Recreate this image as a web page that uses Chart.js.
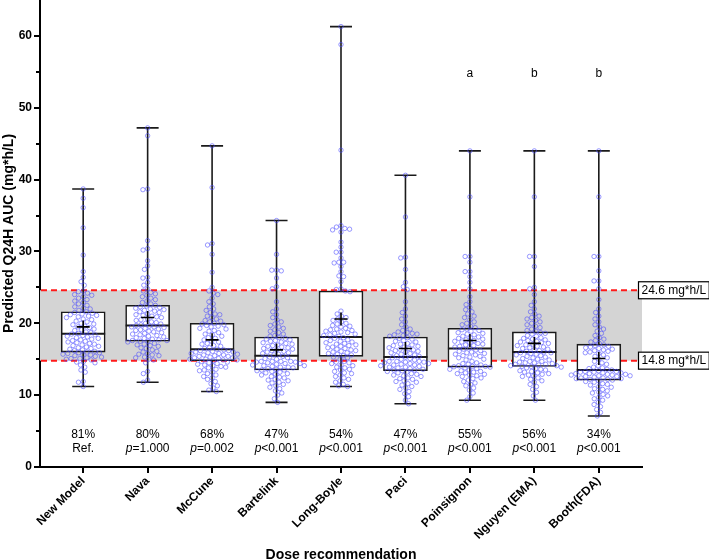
<!DOCTYPE html>
<html><head><meta charset="utf-8">
<script src="https://cdn.jsdelivr.net/npm/chart.js@4/dist/chart.umd.min.js"></script>
<style>html,body{margin:0;padding:0;background:#fff}#wrap{width:709px;height:560px}</style>
</head><body><div id="wrap"><canvas id="c" width="709" height="560"></canvas></div>
<script>
// ---------------- DATA ----------------
const categories = ['New Model','Nava','McCune','Bartelink','Long-Boyle','Paci','Poinsignon','Nguyen (EMA)','Booth(FDA)'];
const whiskerMin = [11.2, 11.8, 10.5, 9.0, 11.2, 8.8, 9.3, 9.3, 7.1];
const q1         = [16.0, 17.5, 14.8, 13.5, 15.4, 13.4, 13.9, 14.0, 12.1];
const median     = [18.55, 19.7, 16.4, 15.5, 18.1, 15.3, 16.5, 16.0, 13.5];
const q3         = [21.6, 22.5, 20.0, 18.1, 24.5, 18.1, 19.3, 18.8, 17.1];
const whiskerMax = [38.7, 47.2, 44.7, 34.3, 61.3, 40.6, 44.0, 44.0, 44.0];
const means      = [19.5, 20.8, 17.7, 16.3, 20.6, 16.5, 17.6, 17.2, 15.1];
const pctInRange = ['81%','80%','68%','47%','54%','47%','55%','56%','34%'];
const pValues    = ['Ref.','p=1.000','p=0.002','p<0.001','p<0.001','p<0.001','p<0.001','p<0.001','p<0.001'];
const sigLetters = ['','','','','','','a','b','b'];
const targetLow = 14.8;
const targetHigh = 24.6;
const targetLabels = ['24.6 mg*h/L','14.8 mg*h/L'];
const yTicks = [0,10,20,30,40,50,60];
const yMinorTicks = [5,15,25,35,45,55];

const ptsNewModel = [11.2,11.8,11.9,13.2,13.5,13.9,14.2,14.5,14.6,14.7,14.9,15.0,15.1,15.1,15.2,15.3,15.4,15.5,15.6,15.6,15.7,15.8,15.9,15.9,16.0,
 16.1,16.2,16.3,16.4,16.5,16.6,16.7,16.8,16.9,17.0,17.1,17.2,17.3,17.4,17.5,17.6,17.7,17.8,17.9,18.0,18.1,18.2,18.3,18.4,18.5,
 18.6,18.7,18.8,19.0,19.1,19.2,19.4,19.5,19.6,19.8,19.9,20.0,20.2,20.3,20.5,20.6,20.8,20.9,21.0,21.1,21.2,21.3,21.4,21.5,21.6,
 21.8,22.0,22.1,22.3,22.5,22.7,22.9,23.1,23.3,23.5,23.7,23.9,24.0,24.2,24.4,24.5,25.3,25.8,26.4,27.2,29.5,33.3,36.1,37.4,38.7];
const ptsNava = [11.8,12.1,13.0,13.3,14.5,14.9,15.0,15.2,15.3,15.5,15.6,15.7,15.8,16.0,16.1,16.3,16.5,16.6,16.8,16.9,17.0,17.1,17.2,17.4,17.5,
 17.5,17.6,17.6,17.7,17.8,17.9,18.0,18.1,18.2,18.3,18.4,18.5,18.6,18.7,18.8,18.9,19.0,19.1,19.2,19.3,19.4,19.5,19.5,19.6,19.7,
 19.8,19.9,20.0,20.1,20.2,20.4,20.5,20.6,20.8,20.9,21.0,21.1,21.2,21.3,21.5,21.6,21.7,21.8,21.9,22.0,22.1,22.2,22.3,22.4,22.5,
 22.7,22.9,23.1,23.3,23.5,23.7,23.9,24.1,24.3,24.5,24.8,25.3,25.7,26.3,26.4,27.5,28.0,28.7,30.2,30.4,31.5,38.6,38.7,46.1,47.2];
const ptsMcCune = [10.5,10.7,11.0,11.3,11.6,11.9,12.2,12.4,12.6,12.8,13.0,13.2,13.4,13.5,13.6,13.8,13.9,14.0,14.1,14.2,14.3,14.4,14.5,14.6,14.7,
 14.8,14.9,14.9,15.0,15.0,15.1,15.2,15.2,15.3,15.4,15.4,15.5,15.6,15.6,15.7,15.8,15.8,15.9,16.0,16.0,16.1,16.2,16.2,16.3,16.4,
 16.5,16.6,16.8,16.9,17.1,17.2,17.4,17.5,17.7,17.9,18.0,18.2,18.4,18.5,18.7,18.9,19.0,19.2,19.3,19.5,19.6,19.7,19.8,19.9,20.0,
 20.2,20.3,20.4,20.6,20.8,21.0,21.2,21.3,21.5,21.8,22.0,22.3,22.7,23.0,23.5,24.0,24.2,24.5,25.0,27.1,29.6,30.9,31.1,38.9,44.7];
const ptsBartelink = [9.0,9.5,10.0,10.3,10.6,10.9,11.1,11.3,11.5,11.7,11.8,12.0,12.1,12.2,12.4,12.5,12.6,12.8,12.9,13.0,13.1,13.2,13.3,13.4,13.5,
 13.5,13.6,13.7,13.8,13.9,13.9,14.0,14.1,14.1,14.2,14.3,14.4,14.4,14.5,14.6,14.6,14.7,14.7,14.7,14.7,15.0,15.1,15.2,15.3,15.4,
 15.6,15.7,15.8,15.9,16.0,16.1,16.2,16.3,16.4,16.5,16.6,16.7,16.8,16.9,17.0,17.1,17.2,17.3,17.4,17.5,17.6,17.7,17.8,17.9,18.0,
 18.2,18.3,18.5,18.7,18.9,19.1,19.3,19.5,19.7,19.9,20.2,20.5,20.8,21.2,21.6,22.0,23.0,24.8,25.1,26.3,27.3,27.4,27.4,29.6,34.3];
const ptsLongBoyle = [11.2,11.3,11.5,11.8,12.0,12.2,12.4,12.6,12.8,13.0,13.1,13.3,13.5,13.6,13.8,13.9,14.1,14.2,14.4,14.5,14.6,14.7,15.0,15.2,15.3,
 15.5,15.6,15.7,15.8,15.9,16.0,16.1,16.2,16.3,16.4,16.5,16.6,16.7,16.8,16.9,17.0,17.1,17.2,17.3,17.4,17.5,17.6,17.7,17.9,18.0,
 18.2,18.3,18.4,18.5,18.6,18.7,18.8,18.9,19.0,19.1,19.2,19.3,19.5,19.6,19.7,19.9,20.0,20.2,20.4,20.6,20.8,21.0,21.3,21.7,24.4,
 24.5,24.7,24.8,25.8,26.5,26.6,27.2,27.9,28.4,28.5,28.5,29.1,29.9,29.9,30.6,31.3,32.7,33.0,33.1,33.2,33.4,33.6,44.1,58.8,61.3];
const ptsPaci = [8.8,9.3,9.8,10.2,10.5,10.8,11.0,11.2,11.4,11.6,11.8,11.9,12.0,12.2,12.3,12.4,12.6,12.7,12.8,12.9,13.0,13.1,13.2,13.3,13.4,
 13.5,13.5,13.6,13.7,13.8,13.9,13.9,14.0,14.1,14.2,14.2,14.3,14.4,14.4,14.5,14.6,14.6,14.7,14.7,14.7,14.9,15.0,15.1,15.2,15.3,
 15.4,15.5,15.6,15.7,15.8,15.9,16.0,16.1,16.2,16.3,16.4,16.5,16.6,16.7,16.8,16.9,17.0,17.1,17.2,17.4,17.5,17.6,17.8,17.9,18.0,
 18.2,18.3,18.4,18.5,18.6,18.7,18.8,19.0,19.2,19.5,19.8,20.2,20.6,21.0,21.5,22.0,23.0,24.7,25.1,25.7,27.5,29.1,29.2,34.8,40.6];
const ptsPoinsignon = [9.3,9.8,10.3,10.7,11.0,11.3,11.5,11.7,11.9,12.1,12.3,12.4,12.6,12.7,12.8,12.9,13.0,13.1,13.2,13.3,13.4,13.5,13.6,13.7,13.8,
 13.9,13.95,14.0,14.0,14.1,14.2,14.3,14.4,14.5,14.7,14.9,15.0,15.2,15.3,15.4,15.5,15.6,15.7,15.8,15.9,16.0,16.1,16.2,16.3,16.4,
 16.6,16.7,16.8,16.9,17.0,17.1,17.2,17.3,17.4,17.5,17.6,17.7,17.8,17.9,18.0,18.1,18.2,18.4,18.5,18.6,18.7,18.9,19.0,19.1,19.2,
 19.4,19.6,19.8,20.0,20.2,20.5,20.8,21.0,21.3,21.6,21.9,22.2,22.6,23.0,23.7,24.8,25.7,26.5,27.2,27.2,28.5,29.3,29.3,37.6,44.0];
const ptsNguyen = [9.3,9.9,10.4,10.8,11.2,11.5,11.8,12.0,12.2,12.4,12.6,12.7,12.8,12.9,13.0,13.1,13.2,13.3,13.4,13.5,13.6,13.7,13.8,13.9,14.0,
 14.0,14.1,14.1,14.2,14.3,14.3,14.4,14.5,14.5,14.6,14.7,14.7,14.9,15.0,15.1,15.2,15.3,15.4,15.5,15.6,15.7,15.8,15.9,15.9,16.0,
 16.1,16.2,16.3,16.4,16.5,16.6,16.7,16.8,16.9,17.0,17.1,17.2,17.3,17.4,17.5,17.6,17.7,17.8,17.9,18.0,18.2,18.3,18.5,18.6,18.7,
 18.9,19.0,19.2,19.4,19.6,19.8,20.0,20.2,20.4,20.6,20.8,21.0,21.3,21.6,22.0,22.5,23.0,24.0,24.8,25.0,27.9,29.3,29.3,37.6,44.0];
const ptsBooth = [7.1,7.6,8.0,8.4,8.7,9.0,9.3,9.5,9.7,9.9,10.1,10.3,10.4,10.6,10.8,10.9,11.1,11.2,11.4,11.5,11.6,11.8,11.9,12.0,12.1,
 12.2,12.2,12.3,12.3,12.4,12.4,12.5,12.6,12.6,12.7,12.7,12.8,12.8,12.9,12.9,13.0,13.0,13.1,13.1,13.2,13.2,13.3,13.3,13.4,13.5,
 13.6,13.7,13.8,13.9,14.1,14.3,14.5,14.7,15.0,15.2,15.4,15.6,15.8,15.9,16.0,16.1,16.2,16.3,16.4,16.5,16.6,16.7,16.8,16.9,17.0,
 17.2,17.4,17.6,17.8,18.0,18.3,18.6,18.9,19.2,19.5,19.8,20.2,20.6,21.0,21.5,22.0,23.3,24.8,25.9,25.9,27.3,29.3,29.3,37.6,44.0];
const groupPoints = [ptsNewModel, ptsNava, ptsMcCune, ptsBartelink, ptsLongBoyle, ptsPaci, ptsPoinsignon, ptsNguyen, ptsBooth];

// ---------------- STYLE / LAYOUT ----------------
const F = "'Liberation Sans', Arial, Helvetica, sans-serif";
const BOX_PX = 44, CAP_PX = 22, DOT_D = 4.8;

function swarmOffsets(vals, toPix, d) {
  const order = vals.map((v, i) => ({ i, y: toPix(v) })).sort((a, b) => a.y - b.y);
  const placed = [], out = new Array(vals.length).fill(0);
  for (const p of order) {
    const forb = [];
    for (const q of placed) {
      const dy = Math.abs(q.y - p.y);
      if (dy < d) { const dx = Math.sqrt(d * d - dy * dy); forb.push([q.x - dx, q.x + dx]); }
    }
    const cands = [0];
    forb.forEach(f => cands.push(f[0], f[1]));
    cands.sort((a, b) => Math.abs(a) - Math.abs(b));
    let x = 0;
    for (const c of cands) {
      if (forb.every(f => c <= f[0] + 1e-6 || c >= f[1] - 1e-6)) { x = c; break; }
    }
    placed.push({ x, y: p.y });
    out[p.i] = x;
  }
  return out;
}

const bgPlugin = {
  id: 'bg',
  beforeDatasetsDraw(chart) {
    const { ctx, chartArea: a, scales: { y } } = chart;
    const yHi = y.getPixelForValue(targetHigh), yLo = y.getPixelForValue(targetLow);
    ctx.save();
    ctx.fillStyle = '#d4d4d4';
    ctx.fillRect(a.left, yHi, a.right - a.left, yLo - yHi);
    ctx.strokeStyle = '#ff1a1a';
    ctx.lineWidth = 2;
    ctx.setLineDash([6, 4]);
    [yHi, yLo].forEach(py => {
      ctx.beginPath(); ctx.moveTo(a.left + 1, py); ctx.lineTo(a.right - 3, py); ctx.stroke();
    });
    ctx.restore();
  },
  afterDatasetsDraw(chart) {
    const { ctx, scales: { x, y } } = chart;
    ctx.save();
    ctx.fillStyle = '#000';
    ctx.textBaseline = 'middle';
    const reg = '12px ' + F, ital = 'italic 12px ' + F;
    categories.forEach((c, i) => {
      const px = x.getPixelForValue(i);
      ctx.font = reg; ctx.textAlign = 'center';
      ctx.fillText(pctInRange[i], px, y.getPixelForValue(4.45));
      const s = pValues[i];
      const py2 = y.getPixelForValue(2.5);
      if (s.startsWith('p')) {
        ctx.font = ital; const w1 = ctx.measureText('p').width;
        ctx.font = reg; const rest = s.slice(1); const w2 = ctx.measureText(rest).width;
        const x0 = px - (w1 + w2) / 2;
        ctx.textAlign = 'left';
        ctx.font = ital; ctx.fillText('p', x0, py2);
        ctx.font = reg; ctx.fillText(rest, x0 + w1, py2);
      } else {
        ctx.fillText(s, px, py2);
      }
      if (sigLetters[i]) {
        ctx.font = reg; ctx.textAlign = 'center';
        ctx.fillText(sigLetters[i], px, y.getPixelForValue(54.7));
      }
    });
    ctx.restore();
  },
  afterDraw(chart) {
    const { ctx, chartArea: a, scales: { y } } = chart;
    ctx.save();
    // minor y ticks
    ctx.strokeStyle = '#000'; ctx.lineWidth = 2;
    yMinorTicks.forEach(v => {
      const py = Math.round(y.getPixelForValue(v));
      ctx.beginPath(); ctx.moveTo(a.left - 4, py); ctx.lineTo(a.left, py); ctx.stroke();
    });
    // target labels
    ctx.font = '12px ' + F; ctx.textBaseline = 'middle'; ctx.textAlign = 'left';
    [targetHigh, targetLow].forEach((v, k) => {
      const py = y.getPixelForValue(v);
      const t = targetLabels[k];
      const w = ctx.measureText(t).width;
      const x0 = a.right - 4;
      ctx.fillStyle = '#fff';
      ctx.fillRect(x0, py - 8.5, w + 6, 17);
      ctx.strokeStyle = '#000'; ctx.lineWidth = 1.2;
      ctx.strokeRect(x0 + 0.5, py - 8.5, w + 6, 17);
      ctx.fillStyle = '#000';
      ctx.fillText(t, x0 + 3.5, py + 0.5);
    });
    ctx.restore();
  }
};

const config = {
  type: 'scatter',
  data: {
    datasets: [
      { // whiskers (vertical line + caps), filled after layout
        type: 'line', label: 'whiskers', data: [], order: 6,
        borderColor: '#1a1a1a', borderWidth: 1.6, pointRadius: 0, showLine: true, spanGaps: false, fill: false
      },
      { // boxes
        type: 'bar', label: 'boxes', order: 5,
        data: categories.map((c, i) => ({ x: i, y: [q1[i], q3[i]] })),
        backgroundColor: '#ffffff', borderColor: '#1a1a1a', borderWidth: 1.6, borderSkipped: false,
        barThickness: BOX_PX
      },
      { // medians
        type: 'line', label: 'medians', data: [], order: 4,
        borderColor: '#1a1a1a', borderWidth: 2, pointRadius: 0, showLine: true, spanGaps: false, fill: false
      },
      { // individual points
        type: 'scatter', label: 'points', data: [], order: 2,
        pointStyle: 'circle', pointRadius: 2.2, pointBorderWidth: 1,
        pointBorderColor: 'rgba(70,70,255,0.55)', pointBackgroundColor: 'rgba(0,0,0,0)', showLine: false
      },
      { // means
        type: 'scatter', label: 'means', order: 1,
        data: categories.map((c, i) => ({ x: i, y: means[i] })),
        pointStyle: 'cross', pointRadius: 6.5, pointBorderWidth: 1.6, pointBorderColor: '#000', showLine: false
      }
    ]
  },
  options: {
    responsive: false, animation: false, events: [],
    layout: { autoPadding: false, padding: { left: 0, right: 67, top: 0, bottom: 0 } },
    plugins: { legend: { display: false }, tooltip: { enabled: false } },
    scales: {
      x: {
        type: 'linear', min: -0.67, max: 8.67, offset: false,
        afterBuildTicks: s => { s.ticks = categories.map((c, i) => ({ value: i })); },
        afterFit: s => { s.height = 93; s.paddingLeft = 0; s.paddingRight = 0; },
        ticks: {
          autoSkip: false, minRotation: 45, maxRotation: 45, padding: 1, color: '#000',
          font: { family: F, size: 12, weight: 'bold' },
          callback: v => categories[v]
        },
        grid: { drawOnChartArea: false, drawTicks: true, tickLength: 6, color: '#000', lineWidth: 2, offset: false },
        border: { display: true, color: '#000', width: 2 },
        title: { display: true, text: 'Dose recommendation', color: '#000', font: { family: F, size: 14, weight: 'bold', lineHeight: 0.75 }, padding: { top: 0, bottom: 0 } }
      },
      y: {
        type: 'linear', min: 0, max: 65,
        afterBuildTicks: s => { s.ticks = yTicks.map(v => ({ value: v })); },
        afterFit: s => { s.width = 40; s.paddingTop = 0; s.paddingBottom = 0; },
        ticks: { color: '#000', padding: 2, font: { family: F, size: 12, weight: 'bold' } },
        grid: { drawOnChartArea: false, drawTicks: true, tickLength: 6, color: '#000', lineWidth: 2 },
        border: { display: true, color: '#000', width: 2 },
        title: { display: true, text: 'Predicted Q24H AUC (mg*h/L)', color: '#000', font: { family: F, size: 14, weight: 'bold' }, padding: { top: 1, bottom: 0 } }
      }
    }
  },
  plugins: [bgPlugin]
};

const chart = new Chart(document.getElementById('c'), config);
const xs = chart.scales.x, ys = chart.scales.y;
const ppu = xs.getPixelForValue(1) - xs.getPixelForValue(0);
const boxHalf = BOX_PX / 2 / ppu, capHalf = CAP_PX / 2 / ppu;

const whiskerData = [], medianData = [], pointData = [];
categories.forEach((c, i) => {
  whiskerData.push({ x: i, y: whiskerMin[i] }, { x: i, y: whiskerMax[i] }, { x: i, y: null });
  whiskerData.push({ x: i - capHalf, y: whiskerMin[i] }, { x: i + capHalf, y: whiskerMin[i] }, { x: i, y: null });
  whiskerData.push({ x: i - capHalf, y: whiskerMax[i] }, { x: i + capHalf, y: whiskerMax[i] }, { x: i, y: null });
  medianData.push({ x: i - boxHalf, y: median[i] }, { x: i + boxHalf, y: median[i] }, { x: i, y: null });
  const vals = groupPoints[i];
  const offs = swarmOffsets(vals, v => ys.getPixelForValue(v), DOT_D);
  vals.forEach((v, k) => pointData.push({ x: i + offs[k] / ppu, y: v }));
});
chart.data.datasets[0].data = whiskerData;
chart.data.datasets[2].data = medianData;
chart.data.datasets[3].data = pointData;
chart.update('none');
</script>
</body></html>
